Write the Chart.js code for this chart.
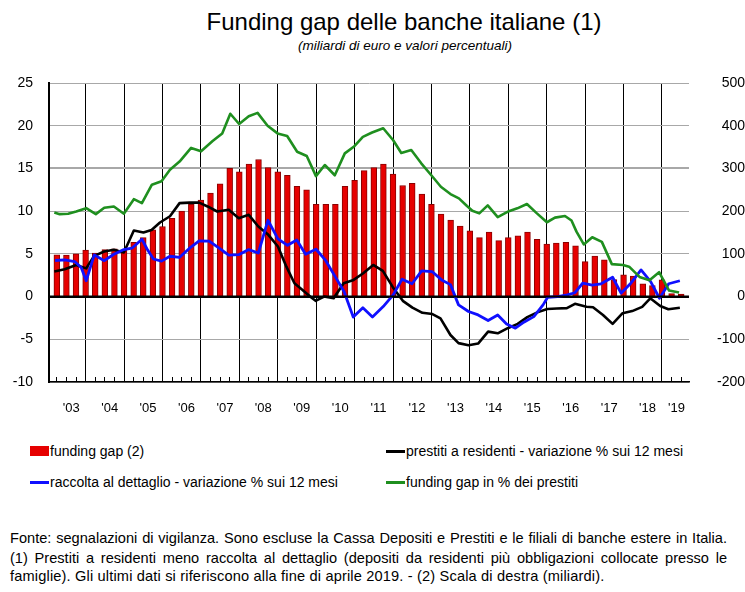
<!DOCTYPE html>
<html>
<head>
<meta charset="utf-8">
<script src="https://cdn.jsdelivr.net/npm/chart.js@4.4.1/dist/chart.umd.min.js"></script>
<style>
  html, body { margin:0; padding:0; background:#fff; }
  #wrap { position:relative; width:745px; height:592px; background:#fff; overflow:hidden;
          font-family:"Liberation Sans", Arial, Helvetica, sans-serif; color:#000; }
  .abs { position:absolute; white-space:nowrap; }
  #title { left:404px; top:8px; transform:translateX(-50%); font-size:24px; line-height:28px; }
  #subtitle { left:405px; top:38px; transform:translateX(-50%); font-size:13.5px; font-style:italic; line-height:16px; }
  #chartBox { position:absolute; left:0; top:0; width:745px; height:430px; }
  .legtxt { font-size:14px; line-height:16px; }
  .mk { position:absolute; }
  .fn { position:absolute; left:10px; font-size:14.6px; line-height:16px; }
  .just { width:717px; text-align:justify; text-align-last:justify; white-space:normal; }
</style>
</head>
<body>
<div id="wrap">
  <div id="title" class="abs">Funding gap delle banche italiane (1)</div>
  <div id="subtitle" class="abs">(miliardi di euro e valori percentuali)</div>
  <div id="chartBox"><canvas id="c" width="745" height="430"></canvas></div>

  <div class="mk" style="left:30px;top:446px;width:19px;height:10px;background:#e60000;"></div>
  <div id="leg0" class="abs legtxt" style="left:50px;top:443px;"></div>
  <div class="mk" style="left:386px;top:450px;width:19px;height:3px;background:#000;"></div>
  <div id="leg1" class="abs legtxt" style="left:406px;top:443px;"></div>
  <div class="mk" style="left:30px;top:481px;width:19px;height:3px;background:#1010ff;"></div>
  <div id="leg2" class="abs legtxt" style="left:50px;top:474px;"></div>
  <div class="mk" style="left:386px;top:481px;width:19px;height:3px;background:#1f8f1f;"></div>
  <div id="leg3" class="abs legtxt" style="left:406px;top:474px;"></div>

  <div class="fn just" style="top:530px;">Fonte: segnalazioni di vigilanza. Sono escluse la Cassa Depositi e Prestiti e le filiali di banche estere in Italia.</div>
  <div class="fn just" style="top:550px;">(1) Prestiti a residenti meno raccolta al dettaglio (depositi da residenti più obbligazioni collocate presso le</div>
  <div class="fn" style="top:568px;white-space:nowrap;letter-spacing:0.16px;">famiglie). Gli ultimi dati si riferiscono alla fine di aprile 2019. - (2) Scala di destra (miliardi).</div>
</div>

<script>
// ---------------- DATA ----------------
const seriesNames = [
  "funding gap (2)",
  "prestiti a residenti - variazione % sui 12 mesi",
  "raccolta al dettaglio - variazione % sui 12 mesi",
  "funding gap in % dei prestiti"
];

const yearLabels = ["'03","'04","'05","'06","'07","'08","'09","'10","'11","'12","'13","'14","'15","'16","'17","'18","'19"];

// quarterly funding gap (billions of euro, right scale)
const quarters = [
  "2003T1","2003T2","2003T3","2003T4","2004T1","2004T2","2004T3","2004T4",
  "2005T1","2005T2","2005T3","2005T4","2006T1","2006T2","2006T3","2006T4",
  "2007T1","2007T2","2007T3","2007T4","2008T1","2008T2","2008T3","2008T4",
  "2009T1","2009T2","2009T3","2009T4","2010T1","2010T2","2010T3","2010T4",
  "2011T1","2011T2","2011T3","2011T4","2012T1","2012T2","2012T3","2012T4",
  "2013T1","2013T2","2013T3","2013T4","2014T1","2014T2","2014T3","2014T4",
  "2015T1","2015T2","2015T3","2015T4","2016T1","2016T2","2016T3","2016T4",
  "2017T1","2017T2","2017T3","2017T4","2018T1","2018T2","2018T3","2018T4",
  "2019T1","2019T2"
];
const fundingGap = [
   98,  97, 100, 109, 102, 110, 112, 108,
  127, 138, 156, 164, 183, 200, 216, 226,
  242, 264, 300, 292, 310, 321, 302, 292,
  284, 258, 250, 216, 216, 216, 258, 272,
  295, 302, 310, 287, 260, 265, 240, 216,
  193, 179, 165, 154, 138, 151, 131, 138,
  142, 151, 134, 123, 125, 127, 119,  82,
   95,  86,  40,  51,  48,  30,  26,  39,
    7,   6
];

// prestiti a residenti - var. % 12 mesi (left scale); time in decimal years
const prestitiT = [2003.06,2003.33,2003.63,2003.89,2004.10,2004.36,2004.61,2004.87,2005.13,2005.38,2005.59,2005.81,
  2006.07,2006.32,2006.58,2006.83,2007.05,2007.30,2007.60,2007.86,2008.12,2008.37,2008.63,2008.88,
  2009.10,2009.31,2009.52,2009.74,2009.86,2010.08,2010.33,2010.59,2010.85,2011.10,2011.36,2011.61,2011.87,
  2012.13,2012.38,2012.64,2012.90,2013.11,2013.37,2013.58,2013.84,2014.09,2014.35,2014.60,2014.86,
  2015.12,2015.37,2015.63,2015.89,2016.14,2016.40,2016.61,2016.91,2017.08,2017.34,2017.59,2017.85,
  2018.10,2018.36,2018.57,2018.83,2019.04,2019.34];
const prestitiV = [2.93,3.2,3.7,3.3,4.77,5.27,5.47,5.16,7.73,7.5,7.8,8.67,
  9.4,10.94,11.0,11.0,10.55,9.96,10.16,9.18,9.57,8.2,7.23,5.86,
  3.5,1.56,0.78,-0.08,-0.5,0,-0.2,1.56,1.95,2.73,3.7,3.0,1.1,
  -0.5,-1.3,-1.9,-2.05,-2.55,-4.5,-5.45,-5.7,-5.5,-4.1,-4.3,-3.7,
  -3.2,-2.4,-1.85,-1.45,-1.4,-1.35,-0.85,-1.2,-1.25,-2.15,-3.2,-1.95,
  -1.7,-1.2,-0.2,-1.1,-1.48,-1.3];

// raccolta al dettaglio - var. % 12 mesi (left scale)
const raccoltaT = [2003.08,2003.33,2003.59,2003.76,2003.89,2004.10,2004.36,2004.61,2004.87,
  2005.08,2005.34,2005.47,2005.64,2005.85,2006.07,2006.32,2006.58,2006.83,2007.09,2007.35,2007.60,2007.86,
  2008.12,2008.37,2008.62,2008.88,2009.13,2009.37,2009.60,2009.87,2010.11,2010.35,2010.60,2010.84,
  2011.09,2011.34,2011.62,2011.88,2012.11,2012.37,2012.62,2012.89,2013.14,2013.37,2013.58,2013.84,
  2014.09,2014.35,2014.60,2014.83,2015.06,2015.28,2015.54,2015.78,2015.90,2016.16,2016.41,2016.61,2016.81,
  2017.06,2017.29,2017.59,2017.81,2018.07,2018.33,2018.58,2018.81,2019.05,2019.34];
const raccoltaV = [4.22,4.3,4.1,3.4,1.85,4.88,4.2,4.95,5.5,
  5.66,6.72,5.6,4.4,4.15,4.72,4.6,5.66,6.53,6.5,5.66,4.85,4.9,
  5.5,5.1,8.93,6.75,6.0,6.63,4.95,5.54,4.3,2.48,0.6,-2.4,
  -1.3,-2.4,-1.17,0.2,2.03,1.5,3.0,2.93,1.95,1.4,-0.97,-1.75,
  -2.15,-2.8,-2.15,-3.2,-3.7,-3.0,-2.35,-0.97,-0.08,0,0.2,0.45,1.56,
  1.33,1.5,2.26,0.4,1.6,3.12,1.75,-0.2,1.5,1.85];

// funding gap in % dei prestiti (left scale)
const gapPctT = [2003.06,2003.20,2003.42,2003.63,2003.89,2004.14,2004.36,2004.61,2004.87,2005.13,2005.34,2005.60,2005.85,
  2006.07,2006.32,2006.62,2006.88,2007.18,2007.43,2007.64,2007.87,2008.12,2008.35,2008.61,2008.87,
  2009.12,2009.38,2009.63,2009.87,2010.10,2010.36,2010.62,2010.87,2011.09,2011.33,2011.62,2011.88,
  2012.09,2012.35,2012.61,2012.91,2013.12,2013.37,2013.59,2013.80,2013.94,2014.12,2014.34,2014.60,2014.89,
  2015.11,2015.36,2015.62,2015.88,2016.09,2016.35,2016.52,2016.65,2016.84,2017.06,2017.31,2017.57,2017.86,
  2018.02,2018.29,2018.55,2018.80,2019.06,2019.32];
const gapPctV = [9.84,9.65,9.7,9.96,10.35,9.65,10.4,10.55,9.7,11.4,10.94,13.1,13.5,
  14.84,15.8,17.4,17.0,18.2,19.1,21.4,20.2,21.1,21.5,20.0,19.1,
  18.8,16.95,16.45,14.1,15.4,14.2,16.76,17.6,18.7,19.2,19.7,18.3,
  16.8,17.15,15.6,14.0,12.86,12.0,11.5,10.6,10.05,9.74,10.68,9.3,10.0,
  10.33,10.83,9.74,8.7,9.24,9.43,8.9,7.6,6.1,6.94,6.4,3.8,3.7,
  3.5,2.3,1.9,2.85,0.7,0.47];

// ---------------- BUILD ----------------
const quarterPos = q => { const y = +q.slice(0,4), n = +q.slice(5); return y + (n - 0.5) / 4; };
const pts = (T, V) => T.map((t, i) => ({ x: t, y: V[i] }));

['leg0','leg1','leg2','leg3'].forEach((id, i) => document.getElementById(id).textContent = seriesNames[i]);

const X_MIN = 2003.05, X_MAX = 2019.45;
const tickVals = [];
for (let y = 2003; y <= 2019; y++) for (let q = 0; q < 4; q++) {
  const v = y + q / 4; if (v > X_MIN && v < X_MAX) tickVals.push(v);
}
const labelAt = {};
yearLabels.forEach((l, i) => { const y = 2003 + i; labelAt[(y === 2019 ? y + 0.25 : y + 0.5).toFixed(2)] = l; });

const zeroLine = {
  id: 'zeroLine',
  afterDatasetsDraw(chart) {
    const y = chart.scales.y, ca = chart.chartArea, ctx = chart.ctx;
    const py = y.getPixelForValue(0);
    ctx.save(); ctx.strokeStyle = '#000'; ctx.lineWidth = 2;
    ctx.beginPath(); ctx.moveTo(ca.left, py); ctx.lineTo(ca.right, py); ctx.stroke(); ctx.restore();
  }
};

const tickFont = { family: '"Liberation Sans", Arial, sans-serif', size: 14 };

new Chart(document.getElementById('c'), {
  type: 'bar',
  data: {
    datasets: [
      { type: 'line', label: seriesNames[3], data: pts(gapPctT, gapPctV), yAxisID: 'y', xAxisID: 'x',
        borderColor: '#1f8f1f', borderWidth: 2.6, pointRadius: 0, tension: 0, order: 0, borderJoinStyle: 'round' },
      { type: 'line', label: seriesNames[2], data: pts(raccoltaT, raccoltaV), yAxisID: 'y', xAxisID: 'x',
        borderColor: '#1010ff', borderWidth: 2.8, pointRadius: 0, tension: 0, order: 1, borderJoinStyle: 'round' },
      { type: 'line', label: seriesNames[1], data: pts(prestitiT, prestitiV), yAxisID: 'y', xAxisID: 'x',
        borderColor: '#000000', borderWidth: 2.6, pointRadius: 0, tension: 0, order: 2, borderJoinStyle: 'round' },
      { type: 'bar', label: seriesNames[0], data: quarters.map((q, i) => ({ x: quarterPos(q), y: fundingGap[i] })),
        yAxisID: 'y2', xAxisID: 'x', backgroundColor: '#e60000', borderColor: '#8a0000', borderWidth: 1,
        barThickness: 5.8, order: 10 }
    ]
  },
  plugins: [zeroLine],
  options: {
    responsive: false, animation: false, devicePixelRatio: 1,
    layout: { padding: { top: 83, left: 0, right: 0, bottom: 0 } },
    plugins: { legend: { display: false }, tooltip: { enabled: false }, title: { display: false } },
    scales: {
      x: {
        type: 'linear', position: 'bottom', min: X_MIN, max: X_MAX,
        afterBuildTicks: s => { s.ticks = tickVals.map(v => ({ value: v })); },
        afterFit: s => { s.height = 48; },
        border: { color: '#000', width: 1.5 },
        grid: {
          color: c => (c.tick && Math.abs(c.tick.value - Math.round(c.tick.value)) < 1e-6) ? '#000' : 'rgba(0,0,0,0)',
          lineWidth: 1, drawTicks: true, tickLength: -5, tickColor: '#000', tickWidth: 1
        },
        ticks: {
          autoSkip: false, maxRotation: 0, minRotation: 0, padding: 24, color: '#000',
          font: { family: '"Liberation Sans", Arial, sans-serif', size: 13 },
          callback: v => labelAt[Number(v).toFixed(2)] || ''
        }
      },
      y: {
        position: 'left', min: -10, max: 25,
        afterBuildTicks: s => { s.ticks = [-10,-5,0,5,10,15,20,25].map(v => ({ value: v })); },
        afterFit: s => { s.width = 49; },
        border: { color: '#000', width: 2 },
        grid: {
          drawTicks: false,
          color: c => c.tick && c.tick.value === 0 ? '#000' : '#a8a8a8',
          lineWidth: c => c.tick && (c.tick.value === 0 || c.tick.value === 15) ? 2 : 1
        },
        ticks: { padding: 16, color: '#000', font: tickFont }
      },
      y2: {
        position: 'right', min: -200, max: 500,
        afterBuildTicks: s => { s.ticks = [-200,-100,0,100,200,300,400,500].map(v => ({ value: v })); },
        afterFit: s => { s.width = 56; },
        border: { display: false },
        grid: { display: false, drawTicks: false, drawOnChartArea: false },
        ticks: { padding: 18, crossAlign: 'far', color: '#000', font: tickFont }
      }
    }
  }
});
</script>
</body>
</html>
